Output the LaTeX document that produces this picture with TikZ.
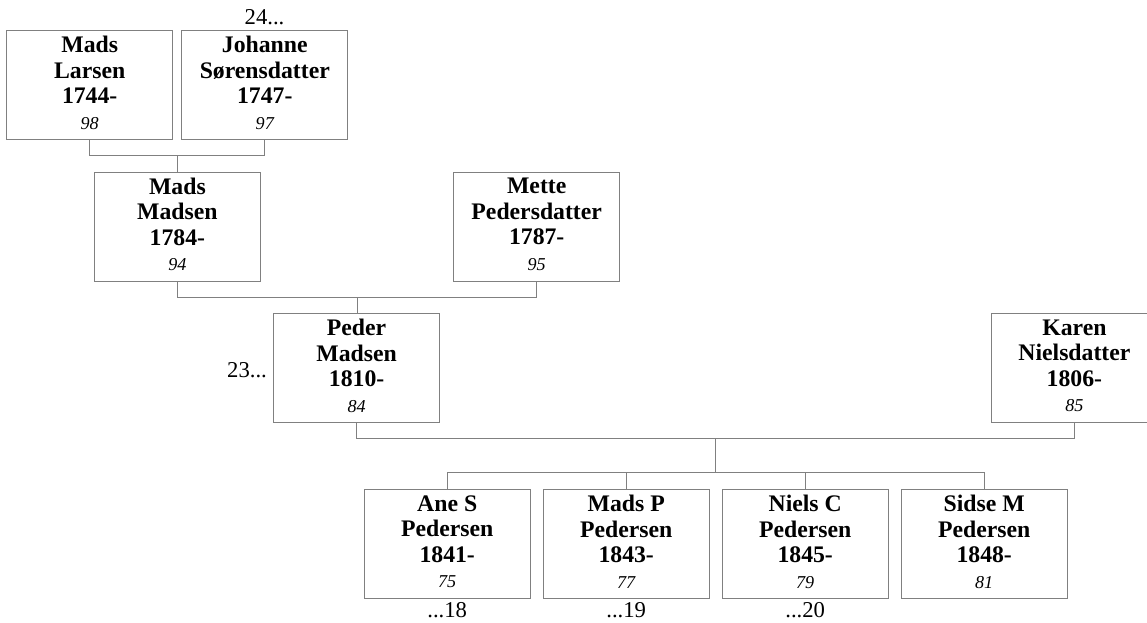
\documentclass[tikz,border=0pt]{standalone}
\usepackage{fontspec}
\setmainfont{Liberation Serif}
\usetikzlibrary{calc}
\definecolor{linegray}{HTML}{808080}
\tikzset{
  person/.style={draw=linegray, line width=0.75pt, minimum width=124.5pt, minimum height=81.5pt,
    inner sep=0pt, align=center, text depth=3.6pt,
    font=\fontsize{17.8}{19.1}\selectfont\bfseries},
  conn/.style={draw=linegray, line width=0.75pt},
  ref/.style={inner sep=0pt, font=\fontsize{17}{19}\selectfont, anchor=base},
}
\newcommand{\yr}[1]{{\fontsize{13.6}{19.1}\selectfont\mdseries\itshape #1}}
\begin{document}
\begin{tikzpicture}[x=0.75pt,y=-0.75pt]
\useasboundingbox (0,0) rectangle (1147,623);
% generation 1
\node[person] (ml) at (89.7,85) {Mads\\Larsen\\1744-\\\yr{98}};
\node[person] (js) at (264.8,85) {Johanne\\Sørensdatter\\1747-\\\yr{97}};
\node[ref] (r24) at (264.5,25) {24...};
% generation 2
\node[person] (mm) at (177.4,226.8) {Mads\\Madsen\\1784-\\\yr{94}};
\node[person] (mp) at (536.7,226.8) {Mette\\Pedersdatter\\1787-\\\yr{95}};
% generation 3
\node[person] (pm) at (356.6,368.3) {Peder\\Madsen\\1810-\\\yr{84}};
\node[person] (kn) at (1074.4,368.3) {Karen\\Nielsdatter\\1806-\\\yr{85}};
\node[ref] (r23) at (247,378) {23...};
% children
\node[person] (as) at (447.2,544.2) {Ane S\\Pedersen\\1841-\\\yr{75}};
\node[person] (mpd) at (626.2,544.2) {Mads P\\Pedersen\\1843-\\\yr{77}};
\node[person] (nc) at (805.2,544.2) {Niels C\\Pedersen\\1845-\\\yr{79}};
\node[person] (sm) at (984.2,544.2) {Sidse M\\Pedersen\\1848-\\\yr{81}};
\node[ref] (r18) at (447.2,617.7) {...18};
\node[ref] (r19) at (626.2,617.7) {...19};
\node[ref] (r20) at (805.2,617.7) {...20};
% connectors
\coordinate (u1) at ($(ml.south)!0.5!(js.south)+(0,15.7)$);
\draw[conn] (ml.south) |- (u1) -| (js.south);
\draw[conn] (u1) -- (u1 |- mm.north);
\coordinate (u2) at ($(mm.south)!0.5!(mp.south)+(0,16)$);
\draw[conn] (mm.south) |- (u2) -| (mp.south);
\draw[conn] (u2) -- (u2 |- pm.north);
\coordinate (u3) at ($(pm.south)!0.5!(kn.south)+(0,15.6)$);
\draw[conn] (pm.south) |- (u3) -| (kn.south);
\coordinate (u4) at ($(u3)+(0,33.4)$);
\draw[conn] (u3) -- (u4);
\draw[conn] (as.north) |- (u4) -| (sm.north);
\draw[conn] (mpd.north) -- (mpd.north |- u4);
\draw[conn] (nc.north) -- (nc.north |- u4);
\end{tikzpicture}
\end{document}
